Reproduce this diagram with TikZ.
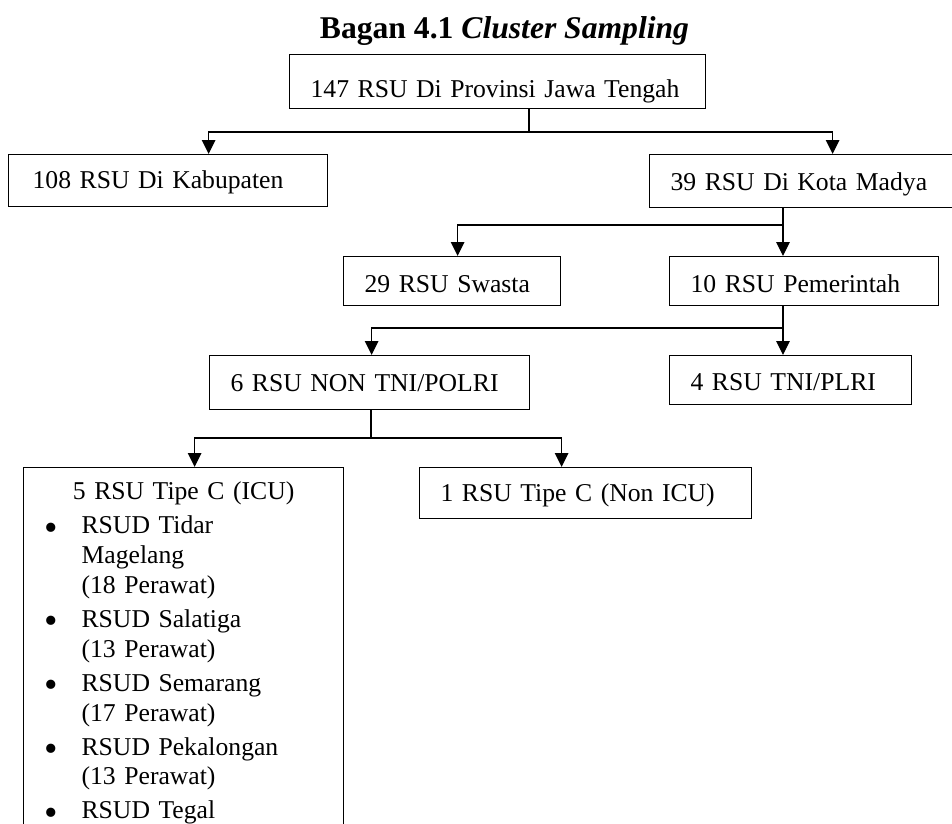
\documentclass[tikz,border=0pt]{standalone}
\usepackage{fontspec}
\usepackage{graphicx}
\setmainfont{Liberation Serif}
\usetikzlibrary{arrows.meta,positioning}

\newcommand{\dotmark}{\makebox[0.74cm][l]{\raisebox{-3.6pt}{\scalebox{1.5}{\textbullet}}}}

\begin{document}
\begin{tikzpicture}[>={Triangle[length=0.28cm,width=0.27cm]},line width=0.7pt,
  box/.style={draw,anchor=north west,align=left,inner xsep=0.42cm,inner ysep=0pt,
    font=\fontsize{14.6}{17}\selectfont},
  cell/.style={box,text depth=0pt}]
\useasboundingbox (0,0) rectangle (19.04,-16.48);

%% title
\node[anchor=base,font=\fontsize{18}{21}\selectfont\bfseries] (title) at (10.09,-0.76) {Bagan 4.1 \textit{Cluster Sampling}};

%% boxes
\node[cell,text width=7.48cm,minimum height=1.08cm,text height=0.64cm] (prov) at (5.78,-1.08) {147 RSU Di Provinsi Jawa Tengah};
\node[cell,text width=5.54cm,minimum height=1.04cm,text height=0.32cm] (kab) at (0.16,-3.08) {\hspace*{0.06cm}108 RSU Di Kabupaten};
\node[cell,text width=5.30cm,minimum height=1.06cm,text height=0.38cm] (kota) at (12.98,-3.08) {39 RSU Di Kota Madya};
\node[cell,text width=3.50cm,minimum height=0.98cm,text height=0.44cm] (swasta) at (6.86,-5.12) {29 RSU Swasta};
\node[cell,text width=4.54cm,minimum height=0.98cm,text height=0.44cm] (pem) at (13.38,-5.12) {10 RSU Pemerintah};
\node[cell,text width=5.56cm,minimum height=1.08cm,text height=0.35cm] (nontni) at (4.18,-7.10) {6 RSU NON TNI/POLRI};
\node[cell,text width=4.00cm,minimum height=0.98cm,text height=0.42cm] (tni) at (13.38,-7.10) {4 RSU TNI/PLRI};
\node[cell,text width=5.80cm,minimum height=1.02cm,text height=0.33cm] (nonicu) at (8.38,-9.34) {1 RSU Tipe C (Non ICU)};
\node[box,text width=5.56cm,inner ysep=0.29cm] (icu) at (0.46,-9.34) {%
  \makebox[5.56cm][c]{5 RSU Tipe C (ICU)}\\[2.3pt]
  \dotmark RSUD Tidar\\
  \hspace*{0.74cm}Magelang\\
  \hspace*{0.74cm}(18 Perawat)\\[2.3pt]
  \dotmark RSUD Salatiga\\
  \hspace*{0.74cm}(13 Perawat)\\[2.3pt]
  \dotmark RSUD Semarang\\
  \hspace*{0.74cm}(17 Perawat)\\[2.3pt]
  \dotmark RSUD Pekalongan\\
  \hspace*{0.74cm}(13 Perawat)\\[2.3pt]
  \dotmark RSUD Tegal};

%% junctions
\coordinate (j1) at (10.58,-2.64);
\coordinate (j2) at (15.66,-4.50);
\coordinate (j3) at (15.66,-6.56);
\coordinate (j4) at (7.42,-8.76);

%% connectors
\draw (prov.south -| j1) -- (j1);
\draw[->] (j1) -| ([xshift=0.81cm]kab.north);
\draw[->] (j1) -| ([xshift=0.59cm]kota.north);

\draw (kota.south -| j2) -- (j2);
\draw[->] (j2) -| ([xshift=0.11cm]swasta.north);
\draw[->] (j2) -- (j2 |- pem.north);

\draw (pem.south -| j3) -- (j3);
\draw[->] (j3) -| ([xshift=0.04cm]nontni.north);
\draw[->] (j3) -- (j3 |- tni.north);

\draw (nontni.south -| j4) -- (j4);
\draw[->] (j4) -| ([xshift=0.22cm]icu.north);
\draw[->] (j4) -| ([xshift=-0.48cm]nonicu.north);
\end{tikzpicture}
\end{document}
